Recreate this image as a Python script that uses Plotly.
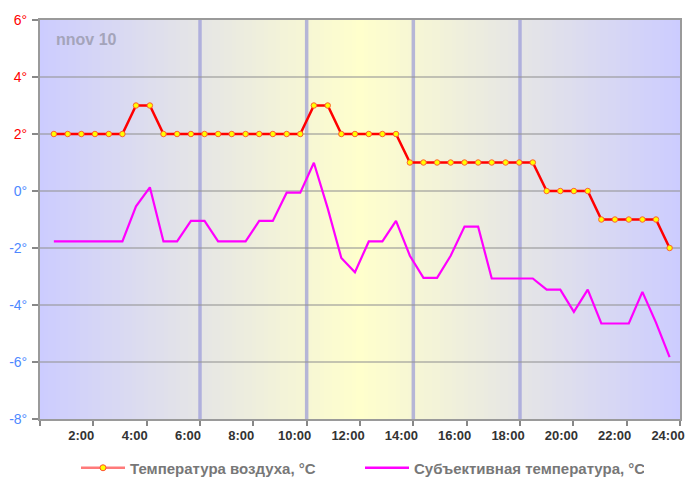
import plotly.graph_objects as go

# ---- data ----
hours = [0.52, 1.04, 1.55, 2.06, 2.58, 3.09, 3.60, 4.12, 4.63, 5.14, 5.66, 6.17,
         6.68, 7.19, 7.71, 8.22, 8.73, 9.25, 9.76, 10.27, 10.79, 11.30, 11.81, 12.33,
         12.84, 13.35, 13.87, 14.38, 14.89, 15.40, 15.92, 16.43, 16.94, 17.46, 17.97,
         18.48, 19.00, 19.51, 20.02, 20.54, 21.05, 21.56, 22.08, 22.59, 23.10, 23.61]

air_temp = [2, 2, 2, 2, 2, 2, 3, 3, 2, 2, 2, 2, 2, 2, 2, 2, 2, 2, 2, 3, 3, 2, 2, 2,
            2, 2, 1, 1, 1, 1, 1, 1, 1, 1, 1, 1, 0, 0, 0, 0, -1, -1, -1, -1, -1, -2]

feels_temp = [-1.77, -1.77, -1.77, -1.77, -1.77, -1.77, -0.54, 0.13, -1.77, -1.77,
              -1.05, -1.05, -1.77, -1.77, -1.77, -1.05, -1.05, -0.06, -0.06, 0.99,
              -0.61, -2.35, -2.85, -1.77, -1.77, -1.05, -2.27, -3.05, -3.05, -2.27,
              -1.25, -1.25, -3.07, -3.07, -3.07, -3.07, -3.46, -3.46, -4.24, -3.46,
              -4.65, -4.65, -4.65, -3.54, -4.62, -5.83]

x_tickvals = [0, 2, 4, 6, 8, 10, 12, 14, 16, 18, 20, 22, 24]
x_ticktext = ["", "2:00", "4:00", "6:00", "8:00", "10:00", "12:00", "14:00",
              "16:00", "18:00", "20:00", "22:00", "24:00"]
y_tickvals = [6, 4, 2, 0, -2, -4, -6, -8]
y_ticktext = ["6°", "4°", "2°", "0°", "-2°", "-4°", "-6°", "-8°"]
marker_hours = [6, 10, 14, 18]

series_names = ["Температура воздуха, °C", "Субъективная температура, °C"]
label = "nnov 10"

# ---- figure ----
fig = go.Figure()

fig.add_trace(go.Scatter(
    x=hours, y=air_temp, mode="lines+markers", name=series_names[0],
    line=dict(color="#ff0000", width=2.5),
    marker=dict(symbol="circle", size=5.5, color="#ffff00",
                line=dict(color="#ff6030", width=1)),
    showlegend=False, hoverinfo="skip"))

fig.add_trace(go.Scatter(
    x=hours, y=feels_temp, mode="lines", name=series_names[1],
    line=dict(color="#ff00ff", width=2.2),
    showlegend=False, hoverinfo="skip"))

# legend-only entries (lighter swatch as in the original)
fig.add_trace(go.Scatter(
    x=[None], y=[None], mode="lines+markers", name=series_names[0],
    line=dict(color="#ff7a7a", width=2.5),
    marker=dict(symbol="circle", size=6, color="#ffff00",
                line=dict(color="#ff5030", width=1))))
fig.add_trace(go.Scatter(
    x=[None], y=[None], mode="lines", name=series_names[1],
    line=dict(color="#ff00ff", width=2.5)))

# background gradient (blue -> yellow -> blue)
shapes = []
blue = (204, 204, 255)
yellow = (255, 255, 204)
n = 160
for i in range(n):
    x0 = 24 * i / n
    x1 = 24 * (i + 1) / n
    xm = (x0 + x1) / 2
    t = 1 - abs(xm - 12) / 12
    c = tuple(round(blue[k] + (yellow[k] - blue[k]) * t) for k in range(3))
    shapes.append(dict(type="rect", xref="x", yref="paper", x0=x0, x1=x1 + 0.02,
                       y0=0, y1=1, fillcolor="rgb(%d,%d,%d)" % c,
                       line=dict(width=0), layer="below"))

for h in marker_hours:
    shapes.append(dict(type="line", xref="x", yref="paper", x0=h, x1=h, y0=0, y1=1,
                       line=dict(color="rgba(140,140,215,0.6)", width=3.5),
                       layer="between"))

pos_col = "#ff0000"
neg_col = "#4d88ff"
y_ticktext_col = ['<span style="color:%s">%s</span>' % (pos_col if v > 0 else neg_col, t)
                  for v, t in zip(y_tickvals, y_ticktext)]

fig.update_layout(
    width=687, height=487,
    margin=dict(l=40, r=7, t=20, b=68),
    paper_bgcolor="white",
    plot_bgcolor="white",
    shapes=shapes,
    font=dict(family="Liberation Sans, Arial, sans-serif"),
    showlegend=True,
    legend=dict(orientation="h", x=0.5, xanchor="center",
                yref="container", y=0.039, yanchor="middle",
                font=dict(size=15, color="#777777", weight="bold"),
                bgcolor="rgba(0,0,0,0)", itemwidth=44, entrywidth=225,
                tracegroupgap=0),
    annotations=[dict(text=label, xref="paper", yref="paper", x=0.022, y=0.95,
                      xanchor="left", yanchor="middle", showarrow=False,
                      font=dict(size=16, color="#a4a4ba", weight="bold"))],
)

fig.update_xaxes(
    range=[0, 24], tickmode="array", tickvals=x_tickvals, ticktext=x_ticktext,
    showgrid=False, zeroline=False, automargin=False,
    showline=True, linecolor="#9a9a9a", linewidth=2, mirror=True,
    ticks="outside", ticklen=5, tickwidth=2, tickcolor="#888888",
    ticklabelshift=-12, ticklabelstandoff=-2,
    tickfont=dict(size=13, color="#333333", weight="bold"),
)
fig.update_yaxes(
    range=[-8, 6], tickmode="array", tickvals=y_tickvals, ticktext=y_ticktext_col,
    showgrid=True, gridcolor="rgba(150,150,150,0.55)", gridwidth=2,
    zeroline=False, automargin=False,
    showline=True, linecolor="#9a9a9a", linewidth=2, mirror=True,
    ticks="outside", ticklen=6, tickwidth=2, tickcolor="#888888",
    ticklabelstandoff=2,
    tickfont=dict(size=14),
)

fig.write_html(
    "out.html",
    config={"displayModeBar": False},
    post_script="document.body.style.margin='0';document.body.style.overflow='hidden';",
)
